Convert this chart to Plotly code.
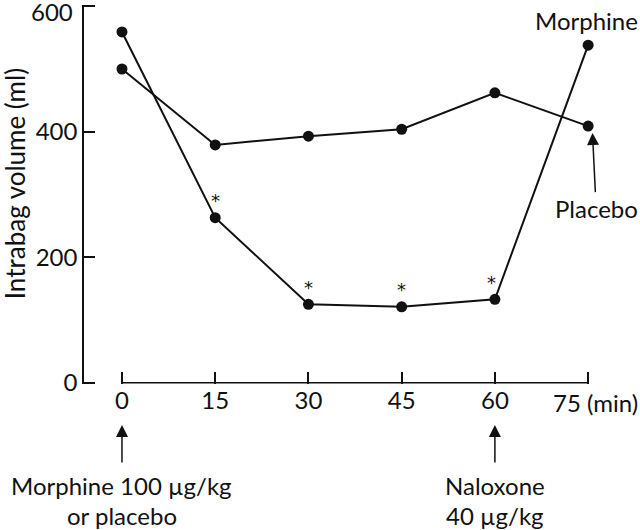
import plotly.graph_objects as go

# time after injection (min)
times = [0, 15, 30, 45, 60, 75]
morphine = [559, 263, 125, 121, 133, 538]
placebo = [500, 379, 393, 404, 462, 409]
star_times = [15, 30, 45, 60]
star_vals = [263, 125, 121, 133]
tick_vals = [0, 15, 30, 45, 60, 75]
tick_text = ["0", "15", "30", "45", "60", ""]
y_vals = [0, 200, 400, 600]
y_text = ["0", "200", "400", ""]   # 600 is placed by hand so it stays inside the page

FONT = "Lato"
INK = "#111111"
FS = 24

fig = go.Figure()

for name, vals in [("Morphine", morphine), ("Placebo", placebo)]:
    fig.add_trace(go.Scatter(
        x=times, y=vals, name=name, mode="lines+markers",
        line=dict(color=INK, width=2),
        marker=dict(color=INK, size=11),
        cliponaxis=False, showlegend=False,
    ))


def label(text, x, y, xref="paper", yref="paper", size=FS, **kw):
    d = dict(x=x, y=y, xref=xref, yref=yref, text=text, showarrow=False,
             xanchor="center", yanchor="middle", font=dict(size=size, color=INK))
    d.update(kw)
    return d


anns = []
# significance stars above the morphine points
for t, v in zip(star_times, star_vals):
    anns.append(label("*", t, v, "x", "y", yshift=17, xshift=-3 if t == 60 else 0,
                      font=dict(family="DejaVu Sans", size=18, color=INK)))

anns += [
    label("600", -0.0178, y_vals[-1], "paper", "y", xanchor="right", yshift=-5),
    label("Intrabag volume (ml)", -0.1364, 0.5296, size=26, textangle=-90),
    label("Morphine", 0.9935, 0.9604),
    label("75 (min)", 75, -0.0488, "x", "paper", xanchor="left", xshift=-37),
    dict(x=75, y=409, xref="x", yref="y", text="Placebo", showarrow=True,
         ax=4, ay=82, xshift=4, standoff=7, arrowhead=2, arrowsize=1.6,
         arrowwidth=1.5, arrowcolor=INK, font=dict(size=FS, color=INK)),
]

# dosing arrows under the time axis
for t, lines in [(0, ["Morphine 100 µg/kg", "or placebo"]),
                 (60, ["Naloxone", "40 µg/kg"])]:
    anns.append(dict(x=t, y=-0.1082, xref="x", yref="paper", text="", showarrow=True,
                     ax=0, ay=39, arrowhead=2, arrowsize=1.6, arrowwidth=1.5,
                     arrowcolor=INK))
    for line, yy in zip(lines, [-0.2665, -0.3464]):
        anns.append(label(line, t, yy, "x", "paper"))

fig.update_layout(
    width=640, height=530,
    margin=dict(l=84, r=50, t=5, b=146),
    paper_bgcolor="white", plot_bgcolor="white",
    font=dict(family=FONT, size=FS, color=INK),
    annotations=anns,
    shapes=[dict(type="line", xref="x", yref="y", x0=0, x1=75, y0=0, y1=0,
                 line=dict(color=INK, width=1.5))],
)

# ranges padded slightly so the inside end ticks are not clipped
fig.update_xaxes(range=[-6.11, 75.3], tickvals=tick_vals, ticktext=tick_text,
                 ticks="inside", ticklen=12, tickwidth=1.5, tickcolor=INK,
                 showline=False, showgrid=False, zeroline=False,
                 tickfont=dict(size=FS))
fig.update_yaxes(range=[-2, 602], tickvals=y_vals, ticktext=y_text,
                 ticks="inside", ticklen=11, tickwidth=1.5, tickcolor=INK,
                 showline=True, linecolor=INK, linewidth=1.5,
                 showgrid=False, zeroline=False, tickfont=dict(size=FS),
                 ticklabeloverflow="allow")

fig.write_html("out.html", config={"displayModeBar": False},
               post_script="document.body.style.margin='0px';")
